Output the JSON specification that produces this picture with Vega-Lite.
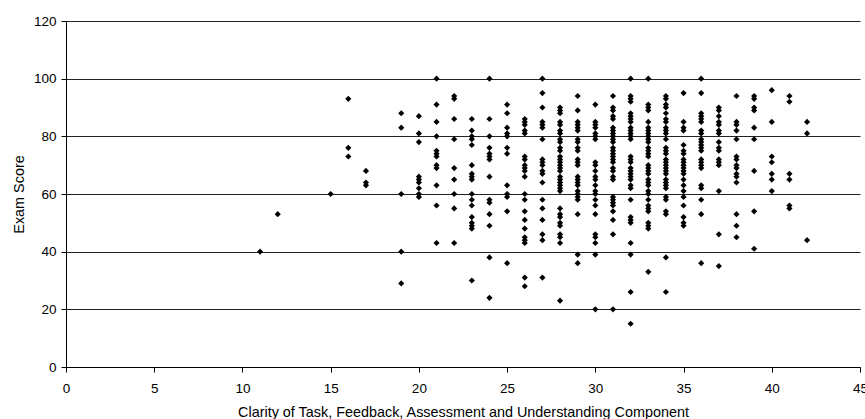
{"$schema":"https://vega.github.io/schema/vega-lite/v6.json","autosize":"none","width":794,"height":346,"padding":{"left":66,"top":21,"right":5,"bottom":52},"background":"white","config":{"view":{"stroke":null},"font":"Liberation Sans"},
"data":{"values":[
{"x":11,"y":40},{"x":12,"y":53},{"x":15,"y":60},
{"x":16,"y":93},{"x":16,"y":76},{"x":16,"y":73},
{"x":17,"y":68},{"x":17,"y":64},{"x":17,"y":63},
{"x":19,"y":88},{"x":19,"y":83},{"x":19,"y":60},{"x":19,"y":40},{"x":19,"y":29},
{"x":20,"y":87},{"x":20,"y":81},{"x":20,"y":78},{"x":20,"y":66},{"x":20,"y":65},{"x":20,"y":64},{"x":20,"y":62},{"x":20,"y":60},{"x":20,"y":59},
{"x":21,"y":100},{"x":21,"y":91},{"x":21,"y":85},{"x":21,"y":80},{"x":21,"y":75},{"x":21,"y":74},{"x":21,"y":73},{"x":21,"y":70},{"x":21,"y":69},{"x":21,"y":63},{"x":21,"y":56},{"x":21,"y":43},
{"x":22,"y":94},{"x":22,"y":93},{"x":22,"y":86},{"x":22,"y":79},{"x":22,"y":69},{"x":22,"y":65},{"x":22,"y":60},{"x":22,"y":55},{"x":22,"y":43},
{"x":23,"y":86},{"x":23,"y":82},{"x":23,"y":80},{"x":23,"y":79},{"x":23,"y":77},{"x":23,"y":70},{"x":23,"y":67},{"x":23,"y":66},{"x":23,"y":65},{"x":23,"y":60},{"x":23,"y":58},{"x":23,"y":56},{"x":23,"y":52},{"x":23,"y":50},{"x":23,"y":49},{"x":23,"y":48},{"x":23,"y":30},
{"x":24,"y":100},{"x":24,"y":86},{"x":24,"y":80},{"x":24,"y":76},{"x":24,"y":74},{"x":24,"y":73},{"x":24,"y":72},{"x":24,"y":66},{"x":24,"y":58},{"x":24,"y":57},{"x":24,"y":53},{"x":24,"y":49},{"x":24,"y":38},{"x":24,"y":24},
{"x":25,"y":91},{"x":25,"y":88},{"x":25,"y":83},{"x":25,"y":81},{"x":25,"y":80},{"x":25,"y":76},{"x":25,"y":74},{"x":25,"y":63},{"x":25,"y":60},{"x":25,"y":59},{"x":25,"y":54},{"x":25,"y":36},
{"x":26,"y":86},{"x":26,"y":85},{"x":26,"y":84},{"x":26,"y":82},{"x":26,"y":81},{"x":26,"y":73},{"x":26,"y":72},{"x":26,"y":70},{"x":26,"y":69},{"x":26,"y":68},{"x":26,"y":66},{"x":26,"y":60},{"x":26,"y":58},{"x":26,"y":54},{"x":26,"y":51},{"x":26,"y":48},{"x":26,"y":45},{"x":26,"y":44},{"x":26,"y":43},{"x":26,"y":31},{"x":26,"y":28},
{"x":27,"y":100},{"x":27,"y":95},{"x":27,"y":90},{"x":27,"y":85},{"x":27,"y":84},{"x":27,"y":83},{"x":27,"y":79},{"x":27,"y":72},{"x":27,"y":71},{"x":27,"y":70},{"x":27,"y":68},{"x":27,"y":67},{"x":27,"y":64},{"x":27,"y":58},{"x":27,"y":55},{"x":27,"y":51},{"x":27,"y":46},{"x":27,"y":44},{"x":27,"y":31},
{"x":28,"y":90},{"x":28,"y":89},{"x":28,"y":88},{"x":28,"y":85},{"x":28,"y":84},{"x":28,"y":82},{"x":28,"y":81},{"x":28,"y":79},{"x":28,"y":78},{"x":28,"y":76},{"x":28,"y":75},{"x":28,"y":73},{"x":28,"y":72},{"x":28,"y":71},{"x":28,"y":70},{"x":28,"y":69},{"x":28,"y":68},{"x":28,"y":66},{"x":28,"y":65},{"x":28,"y":64},{"x":28,"y":63},{"x":28,"y":62},{"x":28,"y":61},{"x":28,"y":55},{"x":28,"y":53},{"x":28,"y":52},{"x":28,"y":50},{"x":28,"y":49},{"x":28,"y":46},{"x":28,"y":45},{"x":28,"y":43},{"x":28,"y":23},
{"x":29,"y":94},{"x":29,"y":89},{"x":29,"y":85},{"x":29,"y":84},{"x":29,"y":83},{"x":29,"y":82},{"x":29,"y":79},{"x":29,"y":78},{"x":29,"y":76},{"x":29,"y":75},{"x":29,"y":72},{"x":29,"y":71},{"x":29,"y":70},{"x":29,"y":66},{"x":29,"y":65},{"x":29,"y":64},{"x":29,"y":63},{"x":29,"y":61},{"x":29,"y":60},{"x":29,"y":59},{"x":29,"y":58},{"x":29,"y":53},{"x":29,"y":39},{"x":29,"y":36},
{"x":30,"y":91},{"x":30,"y":85},{"x":30,"y":84},{"x":30,"y":83},{"x":30,"y":81},{"x":30,"y":80},{"x":30,"y":79},{"x":30,"y":71},{"x":30,"y":70},{"x":30,"y":68},{"x":30,"y":66},{"x":30,"y":65},{"x":30,"y":63},{"x":30,"y":61},{"x":30,"y":60},{"x":30,"y":58},{"x":30,"y":56},{"x":30,"y":53},{"x":30,"y":46},{"x":30,"y":45},{"x":30,"y":43},{"x":30,"y":39},{"x":30,"y":20},
{"x":31,"y":94},{"x":31,"y":90},{"x":31,"y":89},{"x":31,"y":87},{"x":31,"y":86},{"x":31,"y":83},{"x":31,"y":82},{"x":31,"y":81},{"x":31,"y":80},{"x":31,"y":79},{"x":31,"y":78},{"x":31,"y":76},{"x":31,"y":75},{"x":31,"y":74},{"x":31,"y":73},{"x":31,"y":72},{"x":31,"y":71},{"x":31,"y":69},{"x":31,"y":68},{"x":31,"y":66},{"x":31,"y":65},{"x":31,"y":59},{"x":31,"y":58},{"x":31,"y":57},{"x":31,"y":56},{"x":31,"y":54},{"x":31,"y":51},{"x":31,"y":46},{"x":31,"y":20},
{"x":32,"y":100},{"x":32,"y":94},{"x":32,"y":93},{"x":32,"y":92},{"x":32,"y":88},{"x":32,"y":87},{"x":32,"y":86},{"x":32,"y":85},{"x":32,"y":83},{"x":32,"y":82},{"x":32,"y":81},{"x":32,"y":80},{"x":32,"y":79},{"x":32,"y":73},{"x":32,"y":72},{"x":32,"y":71},{"x":32,"y":69},{"x":32,"y":68},{"x":32,"y":67},{"x":32,"y":66},{"x":32,"y":65},{"x":32,"y":63},{"x":32,"y":62},{"x":32,"y":58},{"x":32,"y":52},{"x":32,"y":51},{"x":32,"y":50},{"x":32,"y":43},{"x":32,"y":39},{"x":32,"y":26},{"x":32,"y":15},
{"x":33,"y":100},{"x":33,"y":91},{"x":33,"y":90},{"x":33,"y":89},{"x":33,"y":85},{"x":33,"y":83},{"x":33,"y":82},{"x":33,"y":81},{"x":33,"y":80},{"x":33,"y":79},{"x":33,"y":78},{"x":33,"y":76},{"x":33,"y":75},{"x":33,"y":74},{"x":33,"y":73},{"x":33,"y":70},{"x":33,"y":69},{"x":33,"y":68},{"x":33,"y":67},{"x":33,"y":65},{"x":33,"y":64},{"x":33,"y":63},{"x":33,"y":61},{"x":33,"y":60},{"x":33,"y":58},{"x":33,"y":56},{"x":33,"y":55},{"x":33,"y":54},{"x":33,"y":50},{"x":33,"y":49},{"x":33,"y":48},{"x":33,"y":33},
{"x":34,"y":94},{"x":34,"y":93},{"x":34,"y":91},{"x":34,"y":90},{"x":34,"y":88},{"x":34,"y":86},{"x":34,"y":85},{"x":34,"y":83},{"x":34,"y":82},{"x":34,"y":81},{"x":34,"y":79},{"x":34,"y":76},{"x":34,"y":75},{"x":34,"y":74},{"x":34,"y":72},{"x":34,"y":71},{"x":34,"y":70},{"x":34,"y":69},{"x":34,"y":68},{"x":34,"y":67},{"x":34,"y":65},{"x":34,"y":64},{"x":34,"y":63},{"x":34,"y":62},{"x":34,"y":59},{"x":34,"y":58},{"x":34,"y":54},{"x":34,"y":53},{"x":34,"y":38},{"x":34,"y":26},
{"x":35,"y":95},{"x":35,"y":85},{"x":35,"y":83},{"x":35,"y":82},{"x":35,"y":77},{"x":35,"y":75},{"x":35,"y":74},{"x":35,"y":72},{"x":35,"y":71},{"x":35,"y":70},{"x":35,"y":69},{"x":35,"y":68},{"x":35,"y":67},{"x":35,"y":65},{"x":35,"y":63},{"x":35,"y":61},{"x":35,"y":59},{"x":35,"y":56},{"x":35,"y":52},{"x":35,"y":50},{"x":35,"y":49},
{"x":36,"y":100},{"x":36,"y":95},{"x":36,"y":88},{"x":36,"y":87},{"x":36,"y":86},{"x":36,"y":85},{"x":36,"y":82},{"x":36,"y":81},{"x":36,"y":79},{"x":36,"y":78},{"x":36,"y":77},{"x":36,"y":76},{"x":36,"y":75},{"x":36,"y":72},{"x":36,"y":71},{"x":36,"y":70},{"x":36,"y":69},{"x":36,"y":63},{"x":36,"y":62},{"x":36,"y":58},{"x":36,"y":53},{"x":36,"y":36},
{"x":37,"y":90},{"x":37,"y":89},{"x":37,"y":87},{"x":37,"y":85},{"x":37,"y":84},{"x":37,"y":82},{"x":37,"y":81},{"x":37,"y":78},{"x":37,"y":76},{"x":37,"y":75},{"x":37,"y":72},{"x":37,"y":71},{"x":37,"y":70},{"x":37,"y":61},{"x":37,"y":46},{"x":37,"y":35},
{"x":38,"y":94},{"x":38,"y":85},{"x":38,"y":84},{"x":38,"y":82},{"x":38,"y":79},{"x":38,"y":73},{"x":38,"y":72},{"x":38,"y":70},{"x":38,"y":69},{"x":38,"y":67},{"x":38,"y":66},{"x":38,"y":64},{"x":38,"y":53},{"x":38,"y":49},{"x":38,"y":45},
{"x":39,"y":94},{"x":39,"y":93},{"x":39,"y":90},{"x":39,"y":89},{"x":39,"y":83},{"x":39,"y":79},{"x":39,"y":68},{"x":39,"y":54},{"x":39,"y":41},
{"x":40,"y":96},{"x":40,"y":85},{"x":40,"y":73},{"x":40,"y":71},{"x":40,"y":67},{"x":40,"y":65},{"x":40,"y":61},
{"x":41,"y":94},{"x":41,"y":92},{"x":41,"y":67},{"x":41,"y":65},{"x":41,"y":56},{"x":41,"y":55},
{"x":42,"y":85},{"x":42,"y":81},{"x":42,"y":44}
]},
"mark":{"type":"point","shape":"diamond","filled":true,"color":"black","size":38,"opacity":1},
"encoding":{
"x":{"field":"x","type":"quantitative","scale":{"domain":[0,45],"nice":false,"zero":true},"axis":{"title":"Clarity of Task, Feedback, Assessment and Understanding Component","values":[0,5,10,15,20,25,30,35,40,45],"grid":false,"domainColor":"black","tickColor":"black","tickSize":5,"labelFontSize":13.5,"labelColor":"black","labelPadding":9,"labelFlush":false,"labelOverlap":false,"titleFontSize":14.4,"titleFontWeight":"normal","titleColor":"black","titlePadding":11}},
"y":{"field":"y","type":"quantitative","scale":{"domain":[0,120],"nice":false},"axis":{"title":"Exam Score","values":[0,20,40,60,80,100,120],"grid":true,"gridColor":"#222","gridOpacity":1,"domainColor":"black","tickColor":"black","tickSize":5,"labelFontSize":13.5,"labelColor":"black","labelPadding":5,"labelFlush":false,"labelOverlap":false,"titleFontSize":14.4,"titleFontWeight":"normal","titleColor":"black","titlePadding":7}}
}}
